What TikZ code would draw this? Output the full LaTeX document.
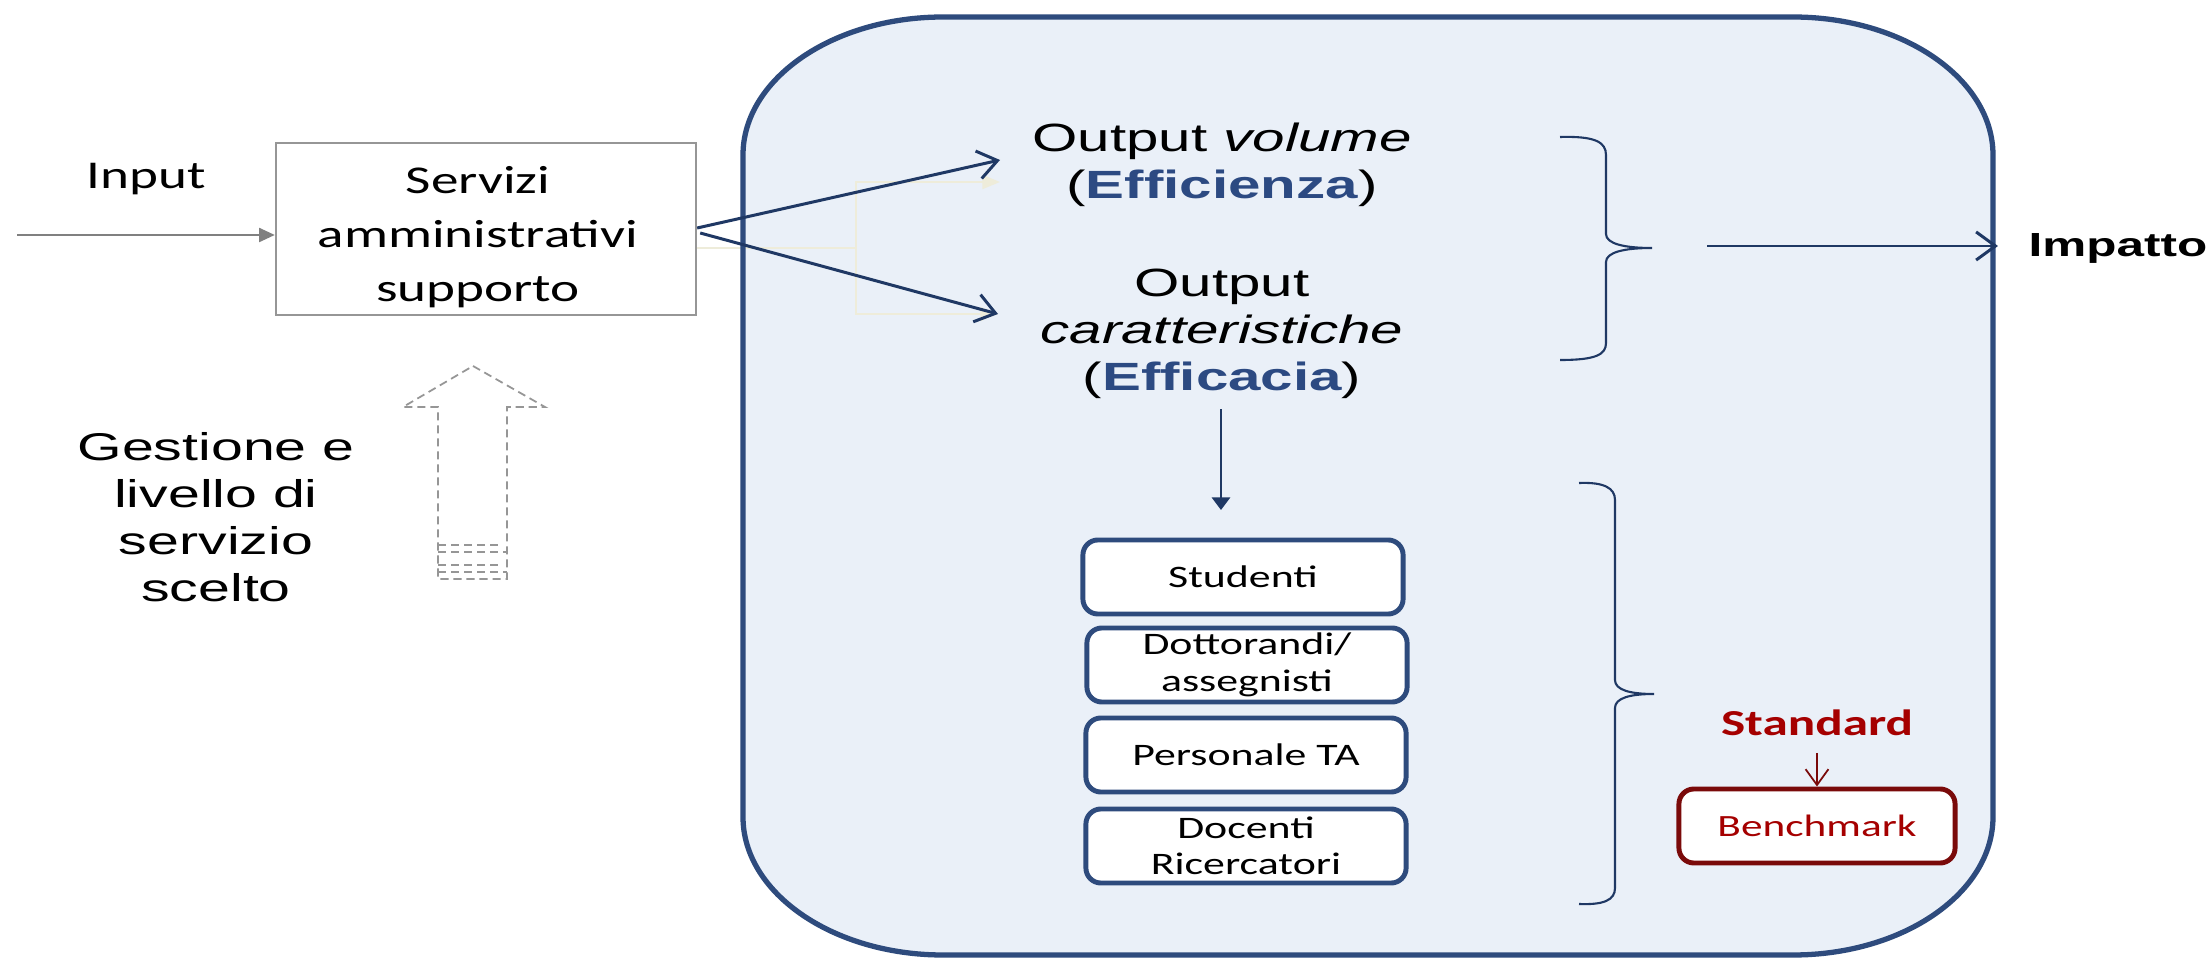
\documentclass[tikz,border=0pt]{standalone}
\usepackage{fontspec}
\newfontfamily\calw[FakeStretch=1.4]{Carlito}
\newfontfamily\ariw[FakeStretch=1.48]{Liberation Sans}
\usetikzlibrary{arrows.meta}
\definecolor{frameblue}{RGB}{46,75,125}
\definecolor{panelfill}{RGB}{234,240,248}
\definecolor{arrowblue}{RGB}{31,56,100}
\definecolor{effblue}{RGB}{44,74,130}
\definecolor{stdred}{RGB}{165,0,0}
\definecolor{benchred}{RGB}{122,10,10}
\definecolor{faintline}{RGB}{238,236,218}
\definecolor{dashgray}{RGB}{150,150,150}
\definecolor{inputgray}{RGB}{128,128,128}
\definecolor{servgray}{RGB}{150,150,150}
\tikzset{
  servbox/.style={draw=servgray, line width=0.6pt, fill=white, minimum width=4.2cm, minimum height=1.72cm,
    inner sep=0pt},
  servtext/.style={align=center, inner sep=0pt, font=\calw\fontsize{11.2}{15.4}\selectfont},
  calt/.style={inner sep=0pt, font=\calw\fontsize{11.2}{15.1}\selectfont},
  arit/.style={inner sep=0pt, align=center, font=\ariw\fontsize{11.2}{13.3}\selectfont},
  gest/.style={inner sep=0pt, align=center, font=\ariw\fontsize{11}{13.4}\selectfont},
  arib/.style={inner sep=0pt, font=\ariw\bfseries\fontsize{9.5}{12}\selectfont},
  catbox/.style={draw=frameblue, line width=1.4pt, fill=white, rounded corners=0.15cm,
    minimum width=3.2cm, minimum height=0.74cm, align=center, inner sep=0pt,
    font=\calw\fontsize{8.9}{10.4}\selectfont},
  benchbox/.style={draw=benchred, line width=1.4pt, fill=white, rounded corners=0.15cm,
    minimum width=2.76cm, minimum height=0.74cm, inner sep=0pt, text=stdred,
    font=\calw\fontsize{8.8}{10.4}\selectfont},
  stdtext/.style={inner sep=0pt, text=stdred, font=\calw\bfseries\fontsize{10.4}{12}\selectfont},
  outarrow/.style={draw=arrowblue, line width=0.85pt, -{Straight Barb[length=5.5pt,width=8pt]}},
  inarrow/.style={draw=inputgray, line width=0.6pt, -{Triangle[length=4.5pt,width=4pt]}},
  vertarrow/.style={draw=arrowblue, line width=0.7pt, -{Triangle[length=3.6pt,width=5.2pt]}},
  stdarrow/.style={draw=benchred, line width=0.5pt, -{Straight Barb[length=4.5pt,width=6.5pt]}},
  bracel/.style={draw=arrowblue, line width=0.6pt},
  fline/.style={draw=faintline, line width=0.5pt},
  dashl/.style={draw=dashgray, line width=0.5pt, dash pattern=on 2.3pt off 1.4pt},
}
\begin{document}
\begin{tikzpicture}[x=0.01cm,y=-0.01cm]
\fill[white] (0,0) rectangle (2211,958);
\useasboundingbox (0,0) rectangle (2211,958);
% panel fill
\fill[panelfill] (743,155) .. controls (743,79) and (833,17) .. (943,17) -- (1793,17)
  .. controls (1903,17) and (1993,79) .. (1993,155) -- (1993,817)
  .. controls (1993,893) and (1903,955) .. (1793,955) -- (943,955)
  .. controls (833,955) and (743,893) .. (743,817) -- cycle;
% Servizi box and input
\node[servbox] (serv) at (486,229) {};
\node[servtext] (servt) at (478,237) {Servizi\\amministrativi\\supporto};
\node[calt, anchor=base] (inp) at (146,189) {Input};
\coordinate (ia) at (17,235);
\draw[inarrow] (ia) -- (serv.west |- ia);
% faint elbow connectors
\coordinate (fe0) at (856,248);
\coordinate (fe1) at (1000,182);
\coordinate (fe2) at (998,314);
\draw[fline] ([yshift=-0.19cm]serv.east) -- (fe0);
\draw[fline, -{Triangle[length=5pt,width=4pt]}] (fe0) |- (fe1);
\draw[fline, -{Triangle[length=5pt,width=4pt]}] (fe0) |- (fe2);
% panel border
\draw[frameblue, line width=1.5pt] (743,155) .. controls (743,79) and (833,17) .. (943,17) -- (1793,17)
  .. controls (1903,17) and (1993,79) .. (1993,155) -- (1993,817)
  .. controls (1993,893) and (1903,955) .. (1793,955) -- (943,955)
  .. controls (833,955) and (743,893) .. (743,817) -- cycle;
% Gestione text and dashed block arrow
\node[gest] (gst) at (216,517) {Gestione e\\livello di\\servizio\\scelto};
\draw[dashl] (473,366) -- (545,407) -- (507,407) -- (507,579) -- (438,579) -- (438,407) -- (403,407) -- cycle;
\draw[dashl] (438,545) -- (498,545);
\draw[dashl] (438,552) -- (507,552);
\draw[dashl] (438,565) -- (500,565);
\draw[dashl] (438,572) -- (507,572);
% outputs
\node[arit] (ov) at (1222,165) {Output \textit{volume}\\(\textbf{\textcolor{effblue}{Efficienza}})};
\node[arit] (oc) at (1222,334) {Output\\\textit{caratteristiche}\\(\textbf{\textcolor{effblue}{Efficacia}})};
\coordinate (t1) at (1000,160);
\coordinate (t2) at (998,314);
\draw[outarrow] ([yshift=0.01cm]serv.east) -- (t1);
\draw[outarrow] ([xshift=0.03cm,yshift=-0.04cm]serv.east) -- (t2);
% braces
\draw[bracel] (1560,137) .. controls (1595,136) and (1606,142) .. (1606,155) -- (1606,234)
  .. controls (1606,244) and (1625,248) .. (1652,248)
  .. controls (1625,248) and (1606,252) .. (1606,262) -- (1606,343)
  .. controls (1606,355) and (1595,360) .. (1560,360);
\draw[bracel] (1579,483) .. controls (1604,482) and (1615,488) .. (1615,500) -- (1615,680)
  .. controls (1615,690) and (1630,694) .. (1654,694)
  .. controls (1630,694) and (1615,698) .. (1615,708) -- (1615,888)
  .. controls (1615,900) and (1604,905) .. (1579,904);
% impatto
\node[arib, anchor=base west] (imp) at (2028,257) {Impatto};
\coordinate (ia2) at (1707,246);
\draw[outarrow, shorten >=0.3cm] (ia2) -- (imp.west |- ia2);
% vertical arrow and categories
\coordinate (t3) at (1221,510);
\draw[vertarrow, shorten <=0.1cm] (oc.south -| t3) -- (t3);
\node[catbox] (stu) at (1243,577) {Studenti};
\node[catbox] (dot) at (1247,665) {Dottorandi/\\assegnisti};
\node[catbox] (per) at (1246,755) {Personale TA};
\node[catbox] (doc) at (1246,846) {Docenti\\Ricercatori};
% standard and benchmark
\node[stdtext, anchor=base] (std) at (1817,736) {Standard};
\node[benchbox] (bench) at (1817,826) {Benchmark};
\draw[stdarrow, shorten <=0.16cm] (std.south) -- (bench.north);
\end{tikzpicture}
\end{document}
